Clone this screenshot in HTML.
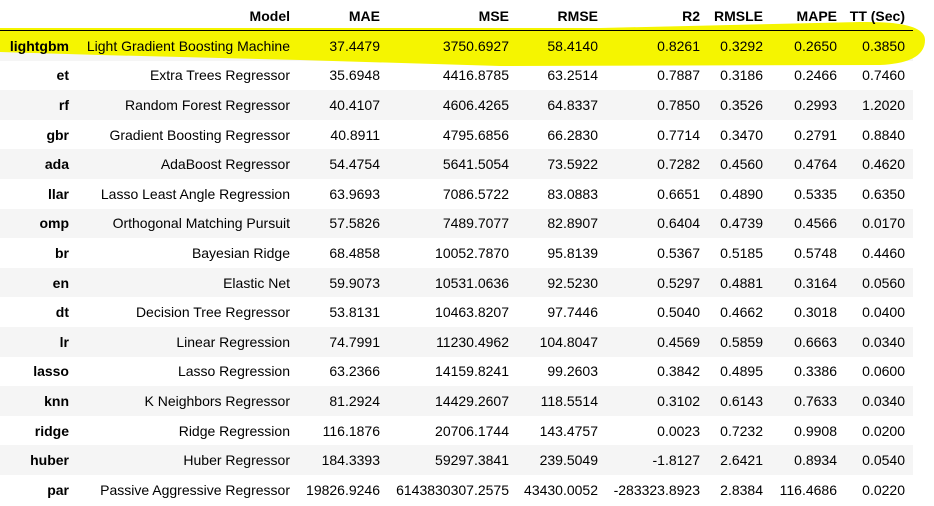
<!DOCTYPE html>
<html><head><meta charset="utf-8"><style>
body{margin:0;background:#fff;width:934px;height:506px;overflow:hidden;position:relative;font-family:"Liberation Sans",Arial,sans-serif;font-size:14px;color:#000}
.band{position:absolute;left:0;width:913px;height:29.6px;background:#f5f5f5}
.c{position:absolute;white-space:nowrap;text-align:right;line-height:16px}
.h{font-weight:bold}
#hl{position:absolute;left:0;top:0}
</style></head><body>
<div id="tbl"></div>
<script>
const columns=["","Model","MAE","MSE","RMSE","R2","RMSLE","MAPE","TT (Sec)"];
const ids=["lightgbm","et","rf","gbr","ada","llar","omp","br","en","dt","lr","lasso","knn","ridge","huber","par"];
const models=["Light Gradient Boosting Machine","Extra Trees Regressor","Random Forest Regressor","Gradient Boosting Regressor","AdaBoost Regressor","Lasso Least Angle Regression","Orthogonal Matching Pursuit","Bayesian Ridge","Elastic Net","Decision Tree Regressor","Linear Regression","Lasso Regression","K Neighbors Regressor","Ridge Regression","Huber Regressor","Passive Aggressive Regressor"];
const mae=["37.4479","35.6948","40.4107","40.8911","54.4754","63.9693","57.5826","68.4858","59.9073","53.8131","74.7991","63.2366","81.2924","116.1876","184.3393","19826.9246"];
const mse=["3750.6927","4416.8785","4606.4265","4795.6856","5641.5054","7086.5722","7489.7077","10052.7870","10531.0636","10463.8207","11230.4962","14159.8241","14429.2607","20706.1744","59297.3841","6143830307.2575"];
const rmse=["58.4140","63.2514","64.8337","66.2830","73.5922","83.0883","82.8907","95.8139","92.5230","97.7446","104.8047","99.2603","118.5514","143.4757","239.5049","43430.0052"];
const r2=["0.8261","0.7887","0.7850","0.7714","0.7282","0.6651","0.6404","0.5367","0.5297","0.5040","0.4569","0.3842","0.3102","0.0023","-1.8127","-283323.8923"];
const rmsle=["0.3292","0.3186","0.3526","0.3470","0.4560","0.4890","0.4739","0.5185","0.4881","0.4662","0.5859","0.4895","0.6143","0.7232","2.6421","2.8384"];
const mape=["0.2650","0.2466","0.2993","0.2791","0.4764","0.5335","0.4566","0.5748","0.3164","0.3018","0.6663","0.3386","0.7633","0.9908","0.8934","116.4686"];
const tt=["0.3850","0.7460","1.2020","0.8840","0.4620","0.6350","0.0170","0.4460","0.0560","0.0400","0.0340","0.0600","0.0340","0.0200","0.0540","0.0220"];
const rights=[69,290,380,509,598,700,763,837,905];
const names=["index","model","mae","mse","rmse","r2","rmsle","mape","tt"];
const tbl=document.getElementById('tbl');
const rowH=29.6, top0=31;
function cell(txt,col,cy,bold,nm){
  const d=document.createElement('div');
  d.className='c'+(bold?' h':'');
  d.textContent=txt;
  d.style.right=(934-rights[col])+'px';
  d.style.top=(cy-8)+'px';
  
  
  tbl.appendChild(d);
}
for(let i=0;i<ids.length;i++){
  if(i%2===0){
    const b=document.createElement('div');
    b.className='band';
    b.style.top=(top0+i*rowH)+'px';
    
    
    tbl.appendChild(b);
  }
}
const svgNS="http://www.w3.org/2000/svg";
const sv=document.createElementNS(svgNS,'svg');
sv.setAttribute('width','934');sv.setAttribute('height','506');sv.id='hl';


const p=document.createElementNS(svgNS,'path');
p.setAttribute('d','M0,28 L600,28 L860,22 Q925,21 925,40 Q925,63 880,65 L500,66 L300,60 L100,55 L0,52 Z');
p.setAttribute('fill','#f5f500');
sv.appendChild(p);
const ln=document.createElementNS(svgNS,'rect');
ln.setAttribute('x','0');ln.setAttribute('y','30');ln.setAttribute('width','913');ln.setAttribute('height','1');ln.setAttribute('fill','#000');
sv.appendChild(ln);
tbl.appendChild(sv);
columns.forEach((c,j)=>{ if(c) cell(c,j,16,true,'header-'+names[j]); });
const data=[models,mae,mse,rmse,r2,rmsle,mape,tt];
for(let i=0;i<ids.length;i++){
  const cy=top0+i*rowH+rowH/2;
  cell(ids[i],0,cy,true,'row-index-'+ids[i]);
  data.forEach((arr,k)=>cell(arr[i],k+1,cy,false,names[k+1]+'-'+ids[i]));
}
</script>
</body></html>
